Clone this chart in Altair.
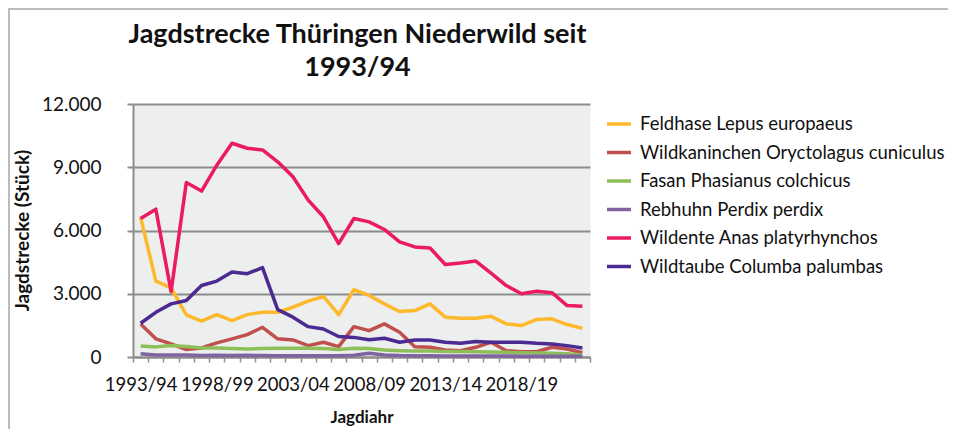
import json
import altair as alt
import pandas as pd

seasons = ["1993/94", "1994/95", "1995/96", "1996/97", "1997/98", "1998/99",
           "1999/00", "2000/01", "2001/02", "2002/03", "2003/04", "2004/05",
           "2005/06", "2006/07", "2007/08", "2008/09", "2009/10", "2010/11",
           "2011/12", "2012/13", "2013/14", "2014/15", "2015/16", "2016/17",
           "2017/18", "2018/19", "2019/20", "2020/21", "2021/22", "2022/23"]

species = ["Feldhase Lepus europaeus",
           "Wildkaninchen Oryctolagus cuniculus",
           "Fasan Phasianus colchicus",
           "Rebhuhn Perdix perdix",
           "Wildente Anas platyrhynchos",
           "Wildtaube Columba palumbas"]

feldhase = [6620, 3600, 3280, 2000, 1700, 2010, 1730, 2010, 2120, 2120,
            2360, 2650, 2870, 2010, 3190, 2920, 2520, 2160, 2200, 2520,
            1890, 1840, 1840, 1930, 1570, 1490, 1780, 1810, 1540, 1360]
wildkaninchen = [1570, 860, 620, 350, 430, 670, 860, 1060, 1410, 860,
                 810, 540, 700, 490, 1440, 1250, 1570, 1170, 490, 460,
                 330, 300, 460, 700, 300, 250, 250, 460, 380, 200]
fasan = [520, 480, 540, 500, 430, 430, 400, 380, 400, 410,
         420, 420, 400, 360, 420, 400, 330, 300, 280, 280,
         260, 260, 250, 240, 220, 200, 190, 180, 160, 100]
rebhuhn = [150, 90, 100, 90, 70, 80, 70, 80, 70, 60,
           60, 60, 60, 60, 80, 180, 100, 70, 60, 60,
           50, 50, 50, 50, 50, 40, 40, 40, 40, 30]
wildente = [6570, 7010, 3100, 8280, 7870, 9100, 10140, 9900, 9820, 9260,
            8550, 7440, 6650, 5380, 6570, 6410, 6050, 5460, 5220, 5170,
            4390, 4460, 4550, 3980, 3390, 3000, 3120, 3050, 2440, 2410]
wildtaube = [1600, 2120, 2520, 2680, 3390, 3600, 4030, 3950, 4240, 2250,
             1890, 1440, 1330, 970, 930, 820, 890, 700, 810, 810,
             700, 650, 740, 700, 700, 700, 650, 620, 540, 430]

colors = ["#FDB92B", "#C0504D", "#8DBE5A", "#8064A2", "#EA1A63", "#4B2A91"]

series = [feldhase, wildkaninchen, fasan, rebhuhn, wildente, wildtaube]
rows = []
for name, vals in zip(species, series):
    for i, v in enumerate(vals):
        rows.append({"i": i, "Saison": seasons[i], "Art": name, "v": v})
df = pd.DataFrame(rows)

FONT = "Lato"
label_expr = ("(datum.value + 0.5) % 5 == 0 && datum.value < 29 ? "
              + json.dumps(seasons) + "[datum.value + 0.5] : ''")

lines = alt.Chart(df).mark_line(strokeWidth=3.5, strokeJoin="round").encode(
    x=alt.X("i:Q",
            scale=alt.Scale(domain=[-0.5, 29.5], nice=False, zero=False),
            axis=alt.Axis(values=[k - 0.5 for k in range(31)],
                          labelExpr=label_expr, labelOffset=7.6,
                          labelOverlap=False, labelFlush=False, labelBound=False,
                          labelAlign="center", labelFontSize=18.5,
                          labelColor="#111", labelFont=FONT, labelPadding=13,
                          tickSize=5, tickColor="#8C8C8C", tickWidth=1.5,
                          domainColor="#8C8C8C", domainWidth=2, grid=False,
                          title="Jagdiahr", titleFont=FONT, titleFontSize=17,
                          titleFontWeight="bold", titleColor="#111",
                          titleBaseline="top", titleY=52)),
    y=alt.Y("v:Q",
            scale=alt.Scale(domain=[0, 12000], nice=False),
            axis=alt.Axis(values=[0, 3000, 6000, 9000, 12000],
                          labelExpr="replace(format(datum.value, ','), ',', '.')",
                          labelFontSize=19, labelColor="#111", labelFont=FONT,
                          labelPadding=26, tickSize=6, tickColor="#8C8C8C",
                          tickWidth=2, domainColor="#8C8C8C", domainWidth=2,
                          grid=True, gridColor="#8C8C8C", gridWidth=2,
                          title="Jagdstrecke (Stück)", titleFont=FONT,
                          titleFontSize=19, titleFontWeight="bold",
                          titleColor="#111", titleAngle=270,
                          titleX=-111, titleY=126, titleBaseline="middle",
                          titleAlign="center")),
    color=alt.Color("Art:N",
                    scale=alt.Scale(domain=species, range=colors),
                    sort=species,
                    legend=alt.Legend(orient="none", legendX=472, legendY=6,
                                      title=None, symbolType="stroke",
                                      symbolStrokeWidth=3.5, symbolSize=576,
                                      labelFontSize=18.5, labelFont=FONT,
                                      labelColor="#111", labelOffset=7,
                                      rowPadding=4.5, padding=0,
                                      labelLimit=400)),
)

frame = alt.Chart(pd.DataFrame({"a": [0]})).mark_rect(
    fill="transparent", stroke="#A6A6A6", strokeWidth=1.5).encode(
    x=alt.value(-124), x2=alt.value(1000),
    y=alt.value(-95), y2=alt.value(400))

chart = alt.layer(frame, lines).properties(
    width=457, height=253,
    autosize=alt.AutoSizeParams(type="none"),
    padding={"left": 125, "top": 96, "right": 358, "bottom": 72},
    title=alt.TitleParams(["Jagdstrecke Thüringen Niederwild seit", "1993/94"],
                          font=FONT, fontSize=27, fontWeight="bold",
                          color="#111", anchor="middle", frame="group",
                          lineHeight=33, offset=-74, dx=-4),
    background="white",
).configure_view(fill="#EDEEEE", stroke="transparent")

chart.save("out.html", embed_options={"renderer": "svg", "actions": False})
